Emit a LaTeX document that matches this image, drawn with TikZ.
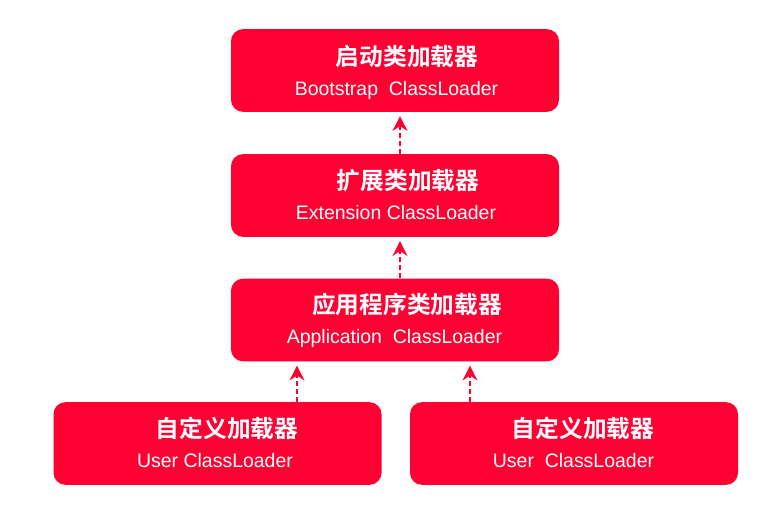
\documentclass[tikz,border=0pt]{standalone}
\usepackage{fontspec}
\setmainfont{Liberation Sans}
\newfontfamily\cjk{Noto Sans CJK SC}[BoldFont={Noto Sans CJK SC Bold}]
\usetikzlibrary{arrows.meta}
\definecolor{boxred}{RGB}{255,0,51}
\tikzset{
  x=0.75pt, y=-0.75pt,
  loaderbox/.style={fill=boxred, draw=none, rounded corners=9pt, minimum width=246pt, minimum height=62pt, inner sep=0pt},
  cntitle/.style={text=white, font=\cjk\bfseries\fontsize{17.8}{19}\selectfont, inner sep=0pt},
  entitle/.style={text=white, font=\fontsize{14.6}{16}\selectfont, inner sep=0pt, anchor=base},
  parentarrow/.style={draw=boxred, line width=2pt, dash pattern=on 3.75pt off 2.25pt, -{Stealth[length=11pt,width=11pt,inset=3.5pt]}, shorten >=3pt}
}
\begin{document}
\begin{tikzpicture}
\useasboundingbox (0,0) rectangle (782,508);
\node[loaderbox] (b1) at (395,70.5) {};
\node[loaderbox] (b2) at (395,195.5) {};
\node[loaderbox] (b3) at (395,320) {};
\node[loaderbox] (b4) at (217.5,443.5) {};
\node[loaderbox] (b5) at (574,443.5) {};
\node[cntitle] (c1) at (407,57) {启动类加载器};
\node[entitle] (e1) at (396.5,95) {Bootstrap\ \ ClassLoader};
\node[cntitle] (c2) at (408,181) {扩展类加载器};
\node[entitle] (e2) at (396,219) {Extension ClassLoader};
\node[cntitle] (c3) at (407,304) {应用程序类加载器};
\node[entitle] (e3) at (394.5,343) {Application\ \ ClassLoader};
\node[cntitle] (c4) at (227,428.5) {自定义加载器};
\node[entitle] (e4) at (215,467) {User ClassLoader};
\node[cntitle] (c5) at (583,428.5) {自定义加载器};
\node[entitle] (e5) at (573.5,467) {User\ \ ClassLoader};
\draw[parentarrow] (b2.north -| 400,0) -- (b1.south -| 400,0);
\draw[parentarrow] (b3.north -| 400,0) -- (b2.south -| 400,0);
\draw[parentarrow] (b4.north -| 297,0) -- (b3.south -| 297,0);
\draw[parentarrow] (b5.north -| 470,0) -- (b3.south -| 470,0);
\end{tikzpicture}
\end{document}
